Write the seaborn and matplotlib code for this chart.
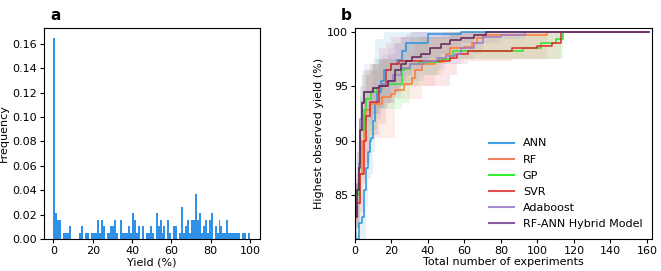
import numpy as np
import pandas as pd
import matplotlib
matplotlib.use("Agg")
import matplotlib.pyplot as plt
import seaborn as sns
from matplotlib.lines import Line2D

# ---------------- Panel a data: histogram of yields (counts per 1% bin) ----------------
N_TOTAL = 188
hist_bins = [0, 1, 2, 3, 5, 6, 7, 8, 13, 14, 16, 17, 19, 20, 21, 22, 23, 24, 25, 27, 28, 29, 30,
             31, 32, 34, 35, 36, 37, 38, 39, 40, 41, 42, 43, 45, 47, 48, 49, 50, 52, 53, 54,
             55, 56, 58, 59, 61, 62, 64, 65, 66, 67, 68, 69, 70, 71, 72, 73, 74, 75, 76, 77,
             78, 79, 80, 82, 83, 84, 85, 86, 87, 88, 89, 90, 91, 92, 93, 94, 96, 97, 99]
hist_counts = [31, 4, 3, 3, 1, 1, 1, 2, 1, 2, 1, 1, 1, 1, 1, 3, 1, 3, 2, 1, 1, 2, 2,
               3, 1, 3, 1, 1, 1, 2, 1, 4, 3, 1, 2, 2, 1, 1, 2, 1, 4, 2, 3,
               1, 2, 3, 1, 2, 2, 1, 5, 1, 2, 3, 1, 3, 3, 7, 3, 4, 1, 2, 3,
               1, 3, 4, 2, 1, 3, 2, 1, 1, 3, 1, 1, 1, 1, 1, 1, 1, 1, 1]

# ---------------- Panel b data: step curves (x change points, mean, band lo/hi) ----------------
labels = ["ANN", "RF", "GP", "SVR", "Adaboost", "RF-ANN Hybrid Model"]
colors = ["#2a93e0", "#ff7a30", "#2fe02f", "#e02828", "#a07ad0", "#5e2456"]
legend_colors = ["#3ea0e0", "#f08060", "#33ee33", "#e05050", "#a78bd0", "#8a5aa0"]

ann_x = [0, 2, 4, 5, 6, 7, 8, 9, 10, 11, 12, 14, 16, 20, 23, 26, 28, 40, 58, 161]
ann_y = [81.0, 82.5, 83.0, 85.5, 87.5, 89.0, 90.0, 90.3, 91.8, 93.5, 94.5, 95.5, 96.5, 97.0, 97.4, 98.2, 99.0, 99.8, 100, 100]
ann_lo = [80.5, 80.5, 80.5, 80.5, 84.0, 86.5, 86.5, 87.0, 89.0, 90.5, 92.0, 93.0, 94.0, 95.0, 95.5, 96.5, 97.5, 99.3, 100, 100]
ann_hi = [81.5, 84.0, 85.5, 90.0, 91.0, 92.0, 93.5, 95.0, 97.0, 99.3, 99.3, 99.3, 100, 100, 100, 100, 100, 100, 100, 100]

rf_x = [0, 2, 3, 4, 5, 6, 8, 13, 15, 20, 22, 27, 31, 33, 37, 44, 48, 50, 52, 60, 64, 67, 70, 105, 161]
rf_y = [84.3, 84.3, 87.0, 90.0, 92.0, 92.8, 93.4, 93.4, 94.0, 94.3, 94.7, 95.2, 95.8, 96.5, 97.0, 97.2, 97.5, 98.0, 98.5, 98.6, 99.0, 99.4, 99.7, 100, 100]
rf_lo = [82.0, 82.0, 84.0, 86.5, 86.5, 88.0, 90.3, 90.3, 90.3, 90.3, 93.8, 93.8, 93.8, 93.8, 95.0, 96.0, 97.0, 97.5, 97.5, 97.5, 97.5, 97.5, 97.5, 100, 100]
rf_hi = [86.5, 87.0, 90.0, 93.0, 95.0, 96.0, 96.5, 97.0, 97.5, 97.5, 97.5, 97.5, 98.0, 99.0, 99.5, 99.5, 100, 100, 100, 100, 100, 100, 100, 100, 100]

gp_x = [0, 1, 2, 3, 5, 6, 9, 12, 15, 26, 27, 30, 35, 46, 52, 54, 92, 102, 110, 114, 161]
gp_y = [83.5, 85.0, 88.0, 91.0, 92.8, 93.8, 94.5, 94.8, 95.2, 96.5, 96.6, 97.0, 97.2, 97.5, 97.8, 98.2, 98.5, 99.0, 99.3, 100, 100]
gp_lo = [81.0, 81.0, 83.0, 86.0, 89.0, 90.0, 91.0, 92.9, 92.9, 93.5, 93.5, 95.0, 96.0, 97.0, 97.5, 97.5, 97.5, 97.5, 97.5, 100, 100]
gp_hi = [86.0, 89.0, 92.0, 95.0, 96.0, 96.5, 97.0, 97.5, 97.5, 98.5, 99.0, 99.5, 99.5, 99.5, 100, 100, 100, 100, 100, 100, 100]

svr_x = [0, 1, 3, 5, 6, 8, 13, 17, 20, 24, 52, 56, 62, 86, 100, 108, 113, 161]
svr_y = [83.0, 84.3, 87.0, 90.0, 92.3, 93.6, 95.0, 96.5, 97.0, 97.3, 97.6, 98.0, 98.2, 98.5, 98.7, 99.0, 100, 100]
svr_lo = [81.0, 82.0, 83.5, 86.0, 88.0, 90.5, 91.5, 93.5, 94.5, 95.0, 96.0, 97.0, 97.3, 97.5, 97.5, 97.5, 100, 100]
svr_hi = [85.5, 87.0, 91.0, 94.0, 96.0, 97.0, 98.5, 99.0, 99.5, 99.5, 99.8, 100, 100, 100, 100, 100, 100, 100]

ada_x = [0, 1, 2, 3, 4, 5, 10, 15, 18, 21, 25, 30, 38, 45, 50, 55, 58, 65, 70, 80, 93, 161]
ada_y = [84.0, 86.0, 88.0, 92.0, 93.6, 94.5, 94.8, 95.2, 95.5, 96.0, 96.7, 97.0, 97.3, 97.6, 97.8, 98.0, 98.5, 99.0, 99.5, 99.7, 100, 100]
ada_lo = [81.0, 82.0, 84.0, 88.0, 90.5, 91.5, 92.5, 93.5, 93.5, 94.0, 95.0, 95.5, 96.0, 96.5, 97.0, 97.0, 97.5, 98.0, 99.0, 99.3, 100, 100]
ada_hi = [87.0, 90.0, 92.0, 95.0, 96.5, 97.0, 97.5, 98.0, 98.5, 99.0, 99.5, 100, 100, 100, 100, 100, 100, 100, 100, 100, 100, 100]

hyb_x = [0, 1, 2, 3, 4, 5, 10, 13, 18, 22, 25, 28, 31, 36, 41, 47, 52, 58, 65, 72, 161]
hyb_y = [83.0, 85.5, 87.5, 91.0, 93.5, 94.5, 94.8, 95.0, 95.5, 96.5, 97.0, 97.3, 97.7, 98.0, 98.5, 98.9, 99.2, 99.4, 99.7, 100, 100]
hyb_lo = [81.0, 82.0, 84.0, 88.0, 91.0, 92.0, 92.5, 93.0, 93.5, 94.5, 95.5, 96.0, 96.5, 97.0, 97.5, 98.0, 98.5, 99.0, 99.3, 100, 100]
hyb_hi = [86.0, 89.0, 91.5, 94.0, 96.0, 96.5, 97.0, 97.5, 98.0, 99.0, 99.5, 99.8, 100, 100, 100, 100, 100, 100, 100, 100, 100]

series_x = [ann_x, rf_x, gp_x, svr_x, ada_x, hyb_x]
series_y = [ann_y, rf_y, gp_y, svr_y, ada_y, hyb_y]
series_lo = [ann_lo, rf_lo, gp_lo, svr_lo, ada_lo, hyb_lo]
series_hi = [ann_hi, rf_hi, gp_hi, svr_hi, ada_hi, hyb_hi]

# ---------------- Figure ----------------
plt.rcParams['font.family'] = ['DejaVu Sans']
fig = plt.figure(figsize=(6.61, 2.71), dpi=100)
ax1 = fig.add_axes([0.066, 0.118, 0.327, 0.779])
ax2 = fig.add_axes([0.537, 0.118, 0.450, 0.779])

# Panel a
hist_df = pd.DataFrame({"yield": np.array(hist_bins) + 0.5,
                        "freq": np.array(hist_counts) / N_TOTAL})
sns.histplot(data=hist_df, x="yield", weights="freq", bins=100, binrange=(0, 100),
             stat="count", color="#2f92e8", alpha=1.0, linewidth=0, ax=ax1)
ax1.set_xlabel("Yield (%)", fontsize=8, labelpad=1)
ax1.set_ylabel("Frequency", fontsize=8, labelpad=2)
ax1.set_xticks([0, 20, 40, 60, 80, 100])
yt = np.arange(0, 0.17, 0.02)
ax1.set_yticks(yt)
ax1.set_yticklabels([f"{v:.2f}" for v in yt])
ax1.tick_params(labelsize=8, length=3, pad=2)
ax1.set_xlim(-5, 105)

# Panel b
handles = []
for xs, ys, lo, hi, c, lc, lab in zip(series_x, series_y, series_lo, series_hi, colors, legend_colors, labels):
    ax2.fill_between(xs, lo, hi, step="post", color=lc, alpha=0.13, linewidth=0)
    df = pd.DataFrame({"x": xs, "y": ys})
    sns.lineplot(data=df, x="x", y="y", drawstyle="steps-post", color=c, linewidth=1.1,
                 ax=ax2, sort=False, estimator=None)
    handles.append(Line2D([0], [0], color=lc, lw=1.5))

ax2.set_xlim(0, 163)
ax2.set_ylim(81, 100.35)
ax2.set_xticks(np.arange(0, 161, 20))
ax2.set_yticks([85, 90, 95, 100])
ax2.set_xlabel("Total number of experiments", fontsize=8, labelpad=1)
ax2.set_ylabel("Highest observed yield (%)", fontsize=8, labelpad=2)
ax2.tick_params(labelsize=8, length=3, pad=2)
ax2.legend(handles, labels, loc="lower right", frameon=False, fontsize=8,
           handlelength=2.2, labelspacing=0.55, bbox_to_anchor=(1.0, 0.0))

fig.text(0.076, 0.97, "a", fontsize=11, fontweight="bold", va="top")
fig.text(0.516, 0.97, "b", fontsize=11, fontweight="bold", va="top")

fig.savefig("out.png", dpi=100)
